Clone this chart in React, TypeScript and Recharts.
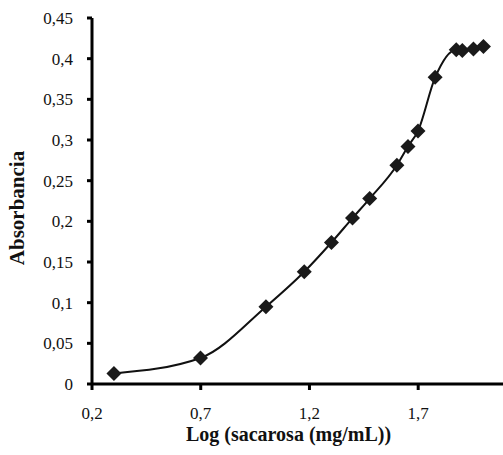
import React from "react";
import { LineChart, Line, XAxis, YAxis, Label } from "recharts";

// log10 of sucrose concentration (mg/mL)
const logConc = [0.301, 0.699, 1.0, 1.176, 1.301, 1.398, 1.477, 1.602, 1.653, 1.699, 1.778, 1.875, 1.903, 1.954, 2.0];
const absorbance = [0.013, 0.032, 0.095, 0.138, 0.174, 0.204, 0.228, 0.269, 0.292, 0.311, 0.377, 0.411, 0.41, 0.412, 0.415];

const xTicks = [0.2, 0.7, 1.2, 1.7];
const yTicks = [0, 0.05, 0.1, 0.15, 0.2, 0.25, 0.3, 0.35, 0.4, 0.45];

const data = logConc.map((x, i) => ({ x, y: absorbance[i] }));

const serif = "Liberation Serif";
const comma = (v: number) => String(v).replace(".", ",");

const Diamond = (props: any) => {
  const { cx, cy } = props;
  if (cx == null || cy == null) return null;
  const r = 7.5;
  return (
    <path
      key={`d-${cx}-${cy}`}
      d={`M${cx},${cy - r}L${cx + r},${cy}L${cx},${cy + r}L${cx - r},${cy}Z`}
      fill="#1a1a1a"
    />
  );
};

export default function App() {
  return (
    <div style={{ position: "absolute", left: 0, top: 0, fontFamily: serif }}>
      <LineChart
        width={503}
        height={455}
        data={data}
        margin={{ top: 18, right: 0, bottom: 0, left: 0 }}
        style={{ fontFamily: serif }}
      >
        <XAxis
          dataKey="x"
          type="number"
          domain={[0.2, 2.09]}
          ticks={xTicks}
          tickFormatter={comma}
          height={71}
          stroke="#000"
          strokeWidth={3}
          tickSize={6}
          tickMargin={17}
          tick={{ fill: "#111", fontSize: 17, fontFamily: serif }}
        >
          <Label
            content={({ viewBox }: any) => (
              <text
                x={viewBox.x + viewBox.width / 2 - 9}
                y={441}
                textAnchor="middle"
                style={{ fontFamily: serif, fontWeight: "bold", fontSize: 20 }}
                fill="#111"
              >
                Log (sacarosa (mg/mL))
              </text>
            )}
          />
        </XAxis>
        <YAxis
          dataKey="y"
          type="number"
          domain={[0, 0.45]}
          ticks={yTicks}
          tickFormatter={comma}
          width={92}
          stroke="#000"
          strokeWidth={3}
          tickSize={5}
          tickMargin={14}
          tick={{ fill: "#111", fontSize: 17, fontFamily: serif }}
        >
          <Label
            content={({ viewBox }: any) => (
              <text
                x={17}
                y={viewBox.y + viewBox.height / 2 + 7}
                transform={`rotate(-90, 17, ${viewBox.y + viewBox.height / 2 + 7})`}
                textAnchor="middle"
                dominantBaseline="central"
                style={{ fontFamily: serif, fontWeight: "bold", fontSize: 21 }}
                fill="#111"
              >
                Absorbancia
              </text>
            )}
          />
        </YAxis>
        <Line
          dataKey="y"
          type="monotone"
          stroke="#111"
          strokeWidth={2}
          dot={<Diamond />}
          activeDot={false}
          isAnimationActive={false}
        />
      </LineChart>
    </div>
  );
}
